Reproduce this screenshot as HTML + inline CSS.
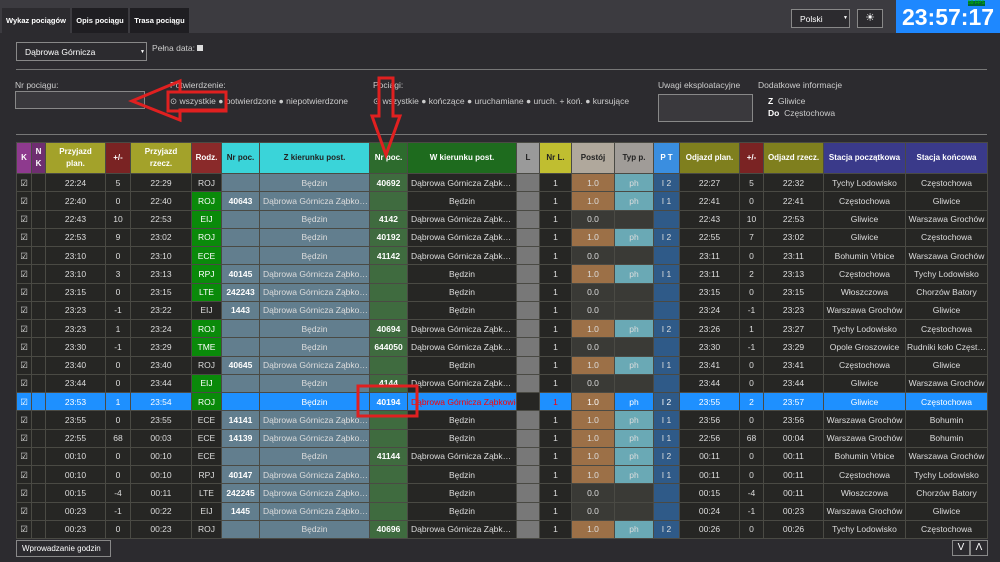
<!DOCTYPE html>
<html><head><meta charset="utf-8">
<style>
*{box-sizing:border-box;margin:0;padding:0}
body{width:1000px;height:562px;background:#2c2b2f;font-family:"Liberation Sans",sans-serif;color:#ddd;position:relative;overflow:hidden}
.top{position:absolute;left:0;top:0;width:1000px;height:33px;background:#3c3b40}
.tab{position:absolute;top:8px;height:25px;background:#1f1e22;color:#fff;font-size:7.5px;font-weight:bold;line-height:25px;text-align:center}
.clock{position:absolute;left:896px;top:0;width:104px;height:33px;background:#1e88ff;color:#fff;font-weight:bold;font-size:23px;line-height:34px;text-align:center}
.fps{position:absolute;left:968px;top:1px;font-size:5px;color:#0c0;background:#063;line-height:5px}
.box{position:absolute;border:1px solid #888;background:#3a393d}
.lbl{position:absolute;font-size:8.5px;color:#ccc;white-space:nowrap}
.hr{position:absolute;left:16px;width:971px;height:1px;background:#777}
table{position:absolute;left:16px;top:142px;width:971px;border-collapse:collapse;table-layout:fixed;font-size:8.5px;border:1px solid #4a6aa8}
td,th{border:1px solid #4a4a44;text-align:center;white-space:nowrap;overflow:hidden;text-overflow:ellipsis;padding:0 1px}
th{height:31px;color:#fff;font-weight:bold;font-size:8px;line-height:12px}
td{height:18.25px;color:#ddd;background:#262624;line-height:16px}
td:nth-child(7),td:nth-child(8){background:#627e8e}
td:nth-child(7),td:nth-child(9){font-weight:bold;color:#fff}
td:nth-child(9){background:#3f6b3f}
td:nth-child(11){background:#787878}
td:nth-child(13){background:#9c7047}
td:nth-child(14){background:#6aa9b5}
td:nth-child(15){background:#2f5a88}
td.l{text-align:left;padding-left:3px}
td.g{background:#0a8a0a!important;color:#fff}
td.z{background:#3a3a36!important}
td.e{background:#3a3a36!important}
tr.h td{background:#1e90ff;color:#fff}
tr.h td.g{background:#0a8a0a!important}
tr.h td:nth-child(13){background:#9c7047}
tr.h td:nth-child(15){background:#2f5a88}
tr.h td:nth-child(11){background:#262624}
tr.h td:nth-child(9){background:#1e90ff}
tr.h td.r{color:#f00}
</style></head><body>
<div class="top"></div>
<div class="tab" style="left:2px;width:68px;background:#2c2b2f">Wykaz pociągów</div>
<div class="tab" style="left:72px;width:56px">Opis pociągu</div>
<div class="tab" style="left:130px;width:59px">Trasa pociągu</div>
<div class="box" style="left:791px;top:9px;width:59px;height:19px;background:#2c2b2f"><span class="lbl" style="left:8px;top:4px;color:#fff">Polski</span><span class="lbl" style="left:51px;top:5px;font-size:5px;color:#fff">▼</span></div>
<div class="box" style="left:857px;top:9px;width:26px;height:19px;background:#2c2b2f;color:#fff;text-align:center;font-size:11px;line-height:17px">☀</div>
<div class="clock">23:57:17</div><div class="fps">59 FPS</div>

<div class="box" style="left:16px;top:42px;width:131px;height:19px;background:#2c2b2f"><span class="lbl" style="left:8px;top:4px;color:#fff">Dąbrowa Górnicza</span><span class="lbl" style="left:123px;top:6px;font-size:5px;color:#fff">▼</span></div>
<div class="lbl" style="left:152px;top:43px">Pełna data: <span style="display:inline-block;width:6px;height:6px;background:#ddd"></span></div>
<div class="hr" style="top:69px"></div>
<div class="lbl" style="left:15px;top:80px">Nr pociągu:</div>
<div class="box" style="left:15px;top:91px;width:130px;height:18px"></div>
<div class="lbl" style="left:170px;top:80px">Potwierdzenie:</div>
<div class="lbl" style="left:170px;top:96px">⊙ wszystkie ● potwierdzone ● niepotwierdzone</div>
<div class="lbl" style="left:373px;top:80px">Pociągi:</div>
<div class="lbl" style="left:373px;top:96px">⊙ wszystkie ● kończące ● uruchamiane ● uruch. + koń. ● kursujące</div>
<div class="lbl" style="left:658px;top:80px">Uwagi eksploatacyjne</div>
<div class="box" style="left:658px;top:94px;width:95px;height:28px"></div>
<div class="lbl" style="left:758px;top:80px">Dodatkowe informacje</div>
<div class="lbl" style="left:768px;top:96px"><b style="color:#fff">Z</b>&nbsp; Gliwice</div>
<div class="lbl" style="left:768px;top:108px"><b style="color:#fff">Do</b>&nbsp; Częstochowa</div>
<div class="hr" style="top:134px"></div>

<table>
<colgroup><col style="width:15px"><col style="width:14px"><col style="width:60px"><col style="width:25px"><col style="width:61px"><col style="width:30px"><col style="width:38px"><col style="width:110px"><col style="width:38px"><col style="width:109px"><col style="width:23px"><col style="width:32px"><col style="width:43px"><col style="width:39px"><col style="width:26px"><col style="width:60px"><col style="width:24px"><col style="width:60px"><col style="width:82px"><col style="width:82px"></colgroup>
<tr>
<th style="background:#8e3a8e;padding:0">K</th><th style="background:#6e2e70;padding:0">N<br>K</th><th style="background:#a3a22a">Przyjazd<br>plan.</th><th style="background:#7a2323">+/-</th><th style="background:#a3a22a">Przyjazd<br>rzecz.</th><th style="background:#8a2a2a">Rodz.</th><th style="background:#3ad4d9;color:#222">Nr poc.</th><th style="background:#3ad4d9;color:#222">Z kierunku post.</th><th style="background:#2d6b2d">Nr poc.</th><th style="background:#1e6b1e">W kierunku post.</th><th style="background:#9a9a9a;color:#222">L</th><th style="background:#c0be30;color:#222">Nr L.</th><th style="background:#b0a89c;color:#222">Postój</th><th style="background:#a09c98;color:#222">Typ p.</th><th style="background:#3a8ee0">P T</th><th style="background:#7f7f1e">Odjazd plan.</th><th style="background:#7a2323">+/-</th><th style="background:#7f7f1e">Odjazd rzecz.</th><th style="background:#3a3a8a">Stacja początkowa</th><th style="background:#3a3a8a">Stacja końcowa</th>
</tr>
<tr><td>☑</td><td></td><td>22:24</td><td>5</td><td>22:29</td><td>ROJ</td><td></td><td>Będzin</td><td>40692</td><td class="l">Dąbrowa Górnicza Ząbkowice</td><td></td><td>1</td><td>1.0</td><td>ph</td><td>I 2</td><td>22:27</td><td>5</td><td>22:32</td><td>Tychy Lodowisko</td><td>Częstochowa</td></tr>
<tr><td>☑</td><td></td><td>22:40</td><td>0</td><td>22:40</td><td class="g">ROJ</td><td>40643</td><td class="l">Dąbrowa Górnicza Ząbkowice</td><td></td><td>Będzin</td><td></td><td>1</td><td>1.0</td><td>ph</td><td>I 1</td><td>22:41</td><td>0</td><td>22:41</td><td>Częstochowa</td><td>Gliwice</td></tr>
<tr><td>☑</td><td></td><td>22:43</td><td>10</td><td>22:53</td><td class="g">EIJ</td><td></td><td>Będzin</td><td>4142</td><td class="l">Dąbrowa Górnicza Ząbkowice</td><td></td><td>1</td><td class="z">0.0</td><td class="e"></td><td></td><td>22:43</td><td>10</td><td>22:53</td><td>Gliwice</td><td>Warszawa Grochów</td></tr>
<tr><td>☑</td><td></td><td>22:53</td><td>9</td><td>23:02</td><td class="g">ROJ</td><td></td><td>Będzin</td><td>40192</td><td class="l">Dąbrowa Górnicza Ząbkowice</td><td></td><td>1</td><td>1.0</td><td>ph</td><td>I 2</td><td>22:55</td><td>7</td><td>23:02</td><td>Gliwice</td><td>Częstochowa</td></tr>
<tr><td>☑</td><td></td><td>23:10</td><td>0</td><td>23:10</td><td class="g">ECE</td><td></td><td>Będzin</td><td>41142</td><td class="l">Dąbrowa Górnicza Ząbkowice</td><td></td><td>1</td><td class="z">0.0</td><td class="e"></td><td></td><td>23:11</td><td>0</td><td>23:11</td><td>Bohumin Vrbice</td><td>Warszawa Grochów</td></tr>
<tr><td>☑</td><td></td><td>23:10</td><td>3</td><td>23:13</td><td class="g">RPJ</td><td>40145</td><td class="l">Dąbrowa Górnicza Ząbkowice</td><td></td><td>Będzin</td><td></td><td>1</td><td>1.0</td><td>ph</td><td>I 1</td><td>23:11</td><td>2</td><td>23:13</td><td>Częstochowa</td><td>Tychy Lodowisko</td></tr>
<tr><td>☑</td><td></td><td>23:15</td><td>0</td><td>23:15</td><td class="g">LTE</td><td>242243</td><td class="l">Dąbrowa Górnicza Ząbkowice</td><td></td><td>Będzin</td><td></td><td>1</td><td class="z">0.0</td><td class="e"></td><td></td><td>23:15</td><td>0</td><td>23:15</td><td>Włoszczowa</td><td>Chorzów Batory</td></tr>
<tr><td>☑</td><td></td><td>23:23</td><td>-1</td><td>23:22</td><td>EIJ</td><td>1443</td><td class="l">Dąbrowa Górnicza Ząbkowice</td><td></td><td>Będzin</td><td></td><td>1</td><td class="z">0.0</td><td class="e"></td><td></td><td>23:24</td><td>-1</td><td>23:23</td><td>Warszawa Grochów</td><td>Gliwice</td></tr>
<tr><td>☑</td><td></td><td>23:23</td><td>1</td><td>23:24</td><td class="g">ROJ</td><td></td><td>Będzin</td><td>40694</td><td class="l">Dąbrowa Górnicza Ząbkowice</td><td></td><td>1</td><td>1.0</td><td>ph</td><td>I 2</td><td>23:26</td><td>1</td><td>23:27</td><td>Tychy Lodowisko</td><td>Częstochowa</td></tr>
<tr><td>☑</td><td></td><td>23:30</td><td>-1</td><td>23:29</td><td class="g">TME</td><td></td><td>Będzin</td><td>644050</td><td class="l">Dąbrowa Górnicza Ząbkowice</td><td></td><td>1</td><td class="z">0.0</td><td class="e"></td><td></td><td>23:30</td><td>-1</td><td>23:29</td><td>Opole Groszowice</td><td>Rudniki koło Częstochowy</td></tr>
<tr><td>☑</td><td></td><td>23:40</td><td>0</td><td>23:40</td><td>ROJ</td><td>40645</td><td class="l">Dąbrowa Górnicza Ząbkowice</td><td></td><td>Będzin</td><td></td><td>1</td><td>1.0</td><td>ph</td><td>I 1</td><td>23:41</td><td>0</td><td>23:41</td><td>Częstochowa</td><td>Gliwice</td></tr>
<tr><td>☑</td><td></td><td>23:44</td><td>0</td><td>23:44</td><td class="g">EIJ</td><td></td><td>Będzin</td><td>4144</td><td class="l">Dąbrowa Górnicza Ząbkowice</td><td></td><td>1</td><td class="z">0.0</td><td class="e"></td><td></td><td>23:44</td><td>0</td><td>23:44</td><td>Gliwice</td><td>Warszawa Grochów</td></tr>
<tr class="h"><td>☑</td><td></td><td>23:53</td><td>1</td><td>23:54</td><td class="g">ROJ</td><td></td><td>Będzin</td><td>40194</td><td class="l r" style="text-overflow:clip">Dąbrowa Górnicza Ząbkowice</td><td></td><td class="r">1</td><td>1.0</td><td>ph</td><td>I 2</td><td>23:55</td><td>2</td><td>23:57</td><td>Gliwice</td><td>Częstochowa</td></tr>
<tr><td>☑</td><td></td><td>23:55</td><td>0</td><td>23:55</td><td>ECE</td><td>14141</td><td class="l">Dąbrowa Górnicza Ząbkowice</td><td></td><td>Będzin</td><td></td><td>1</td><td>1.0</td><td>ph</td><td>I 1</td><td>23:56</td><td>0</td><td>23:56</td><td>Warszawa Grochów</td><td>Bohumin</td></tr>
<tr><td>☑</td><td></td><td>22:55</td><td>68</td><td>00:03</td><td>ECE</td><td>14139</td><td class="l">Dąbrowa Górnicza Ząbkowice</td><td></td><td>Będzin</td><td></td><td>1</td><td>1.0</td><td>ph</td><td>I 1</td><td>22:56</td><td>68</td><td>00:04</td><td>Warszawa Grochów</td><td>Bohumin</td></tr>
<tr><td>☑</td><td></td><td>00:10</td><td>0</td><td>00:10</td><td>ECE</td><td></td><td>Będzin</td><td>41144</td><td class="l">Dąbrowa Górnicza Ząbkowice</td><td></td><td>1</td><td>1.0</td><td>ph</td><td>I 2</td><td>00:11</td><td>0</td><td>00:11</td><td>Bohumin Vrbice</td><td>Warszawa Grochów</td></tr>
<tr><td>☑</td><td></td><td>00:10</td><td>0</td><td>00:10</td><td>RPJ</td><td>40147</td><td class="l">Dąbrowa Górnicza Ząbkowice</td><td></td><td>Będzin</td><td></td><td>1</td><td>1.0</td><td>ph</td><td>I 1</td><td>00:11</td><td>0</td><td>00:11</td><td>Częstochowa</td><td>Tychy Lodowisko</td></tr>
<tr><td>☑</td><td></td><td>00:15</td><td>-4</td><td>00:11</td><td>LTE</td><td>242245</td><td class="l">Dąbrowa Górnicza Ząbkowice</td><td></td><td>Będzin</td><td></td><td>1</td><td class="z">0.0</td><td class="e"></td><td></td><td>00:15</td><td>-4</td><td>00:11</td><td>Włoszczowa</td><td>Chorzów Batory</td></tr>
<tr><td>☑</td><td></td><td>00:23</td><td>-1</td><td>00:22</td><td>EIJ</td><td>1445</td><td class="l">Dąbrowa Górnicza Ząbkowice</td><td></td><td>Będzin</td><td></td><td>1</td><td class="z">0.0</td><td class="e"></td><td></td><td>00:24</td><td>-1</td><td>00:23</td><td>Warszawa Grochów</td><td>Gliwice</td></tr>
<tr><td>☑</td><td></td><td>00:23</td><td>0</td><td>00:23</td><td>ROJ</td><td></td><td>Będzin</td><td>40696</td><td class="l">Dąbrowa Górnicza Ząbkowice</td><td></td><td>1</td><td>1.0</td><td>ph</td><td>I 2</td><td>00:26</td><td>0</td><td>00:26</td><td>Tychy Lodowisko</td><td>Częstochowa</td></tr>
</table>

<div class="box" style="left:16px;top:540px;width:95px;height:17px;background:#2c2b2f"><span class="lbl" style="left:5px;top:3px;color:#fff;font-size:8px">Wprowadzanie godzin</span></div>
<div class="box" style="left:952px;top:540px;width:18px;height:16px;background:#2c2b2f;color:#fff;font-size:10px;text-align:center;line-height:14px">V</div>
<div class="box" style="left:970px;top:540px;width:18px;height:16px;background:#2c2b2f;color:#fff;font-size:10px;text-align:center;line-height:14px">Λ</div>

<svg style="position:absolute;left:0;top:0" width="1000" height="562">
<g fill="none" stroke="#e02020" stroke-width="3">
<polygon points="132,101 180,81 180,92 226,92 226,110 180,110 180,120"/>
<rect x="168" y="92" width="58" height="19"/>
<polygon points="379,78 393,78 393,116 400,116 386,155 372,116 379,116"/>
<rect x="358" y="386" width="59" height="30"/>
</g>
</svg>
</body></html>
